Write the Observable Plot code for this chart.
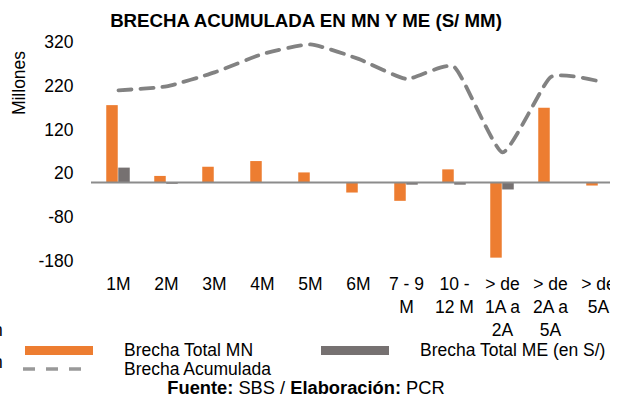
<!DOCTYPE html>
<html>
<head>
<meta charset="utf-8">
<script src="https://cdn.jsdelivr.net/npm/d3@7"></script>
<script src="https://cdn.jsdelivr.net/npm/@observablehq/plot@0.6"></script>
<style>
  html, body { margin: 0; padding: 0; background: #fff; }
  #wrap { position: relative; width: 621px; height: 400px; overflow: hidden; font-family: "Liberation Sans", Arial, sans-serif; color: #000; }
  .abs { position: absolute; white-space: nowrap; }
  #title { left: 0; width: 612px; top: 11px; line-height: 20px; text-align: center; font-weight: bold; font-size: 18.7px; }
  #ylab { left: 19px; top: 83px; font-size: 17.5px; line-height: 20px; transform: translate(-50%, -50%) rotate(-90deg); }
  #chart { left: 0; top: 30px; }
  .lg { font-size: 17.5px; line-height: 20px; }
  #footer { left: 0; width: 612px; top: 378px; line-height: 20px; text-align: center; font-size: 18.3px; }
</style>
</head>
<body>
<div id="wrap">
  <div id="title" class="abs">BRECHA ACUMULADA EN MN Y ME (S/ MM)</div>
  <div id="ylab" class="abs">Millones</div>
  <div id="chart" class="abs"></div>
  <div class="abs lg" style="left:-7px;top:320px;">n</div>
  <div class="abs lg" style="left:-7px;top:352px;">n</div>
  <div class="abs" style="left:25px;top:345.5px;width:68px;height:9px;background:#ED7D31;"></div>
  <div class="abs lg" style="left:124px;top:340px;">Brecha Total MN</div>
  <div class="abs" style="left:321px;top:345.5px;width:68px;height:9px;background:#767171;"></div>
  <div class="abs lg" style="left:420px;top:340px;">Brecha Total ME (en S/)</div>
  <svg class="abs" style="left:23px;top:366px;" width="62" height="6"><line x1="0" y1="3" x2="62" y2="3" stroke="#999" stroke-width="3.5" stroke-dasharray="12,11"/></svg>
  <div class="abs lg" style="left:124px;top:359px;">Brecha Acumulada</div>
  <div id="footer" class="abs"><b>Fuente:</b> SBS / <b>Elaboración:</b> PCR</div>
</div>
<script>
const categories = ["1M", "2M", "3M", "4M", "5M", "6M", "7 - 9 M", "10 - 12 M", "> de 1A a 2A", "> de 2A a 5A", "> de 5A"];
const tickLabels = ["1M", "2M", "3M", "4M", "5M", "6M", "7 - 9\nM", "10 -\n12 M", "> de\n1A a\n2A", "> de\n2A a\n5A", "> de\n5A"];
const brechaMN = [176, 14, 35, 48, 22, -24, -43, 29, -173, 170, -8];
const brechaME = [33, -4, -2, -1, -2, -2, -6, -6, -17, 0, -1];
const brechaAcum = [211, 220, 252, 294, 316, 283, 237, 264, 69, 241, 232];
const yTicks = [-180, -80, 20, 120, 220, 320];

const data = categories.map((c, i) => ({cat: c, mn: brechaMN[i], me: brechaME[i], acum: brechaAcum[i]}));
const labelOf = new Map(categories.map((c, i) => [c, tickLabels[i]]));

const chart = Plot.plot({
  width: 610,
  height: 310,
  marginLeft: 91,
  marginRight: 0,
  marginTop: 12.2,
  marginBottom: 79.3,
  style: {fontFamily: "Liberation Sans, Arial, sans-serif", fontSize: "17.5px", color: "#000", background: "transparent"},
  x: {type: "band", domain: categories, range: [91, 624.5], padding: 0},
  y: {domain: [-180, 320]},
  marks: [
    Plot.barY(data, {x: "cat", y: "mn", fill: "#ED7D31", insetLeft: 12.25, insetRight: 24.25}),
    Plot.barY(data, {x: "cat", y: "me", fill: "#767171", insetLeft: 24.25, insetRight: 12.25}),
    Plot.ruleY([0], {stroke: "#8c8c8c", strokeWidth: 2}),
    Plot.line(data, {x: "cat", y: "acum", stroke: "#828282", strokeWidth: 3.8, strokeDasharray: "13,9", curve: "cardinal", tension: 0.5}),
    Plot.axisY({ticks: yTicks, tickSize: 0, tickPadding: 18, label: null, fontSize: 17.5, tickFormat: d => String(d)}),
    Plot.axisX({tickSize: 0, tickPadding: 13, label: null, fontSize: 17.5, lineHeight: 1.3, tickFormat: d => labelOf.get(d)})
  ]
});
document.getElementById("chart").appendChild(chart);
</script>
</body>
</html>
